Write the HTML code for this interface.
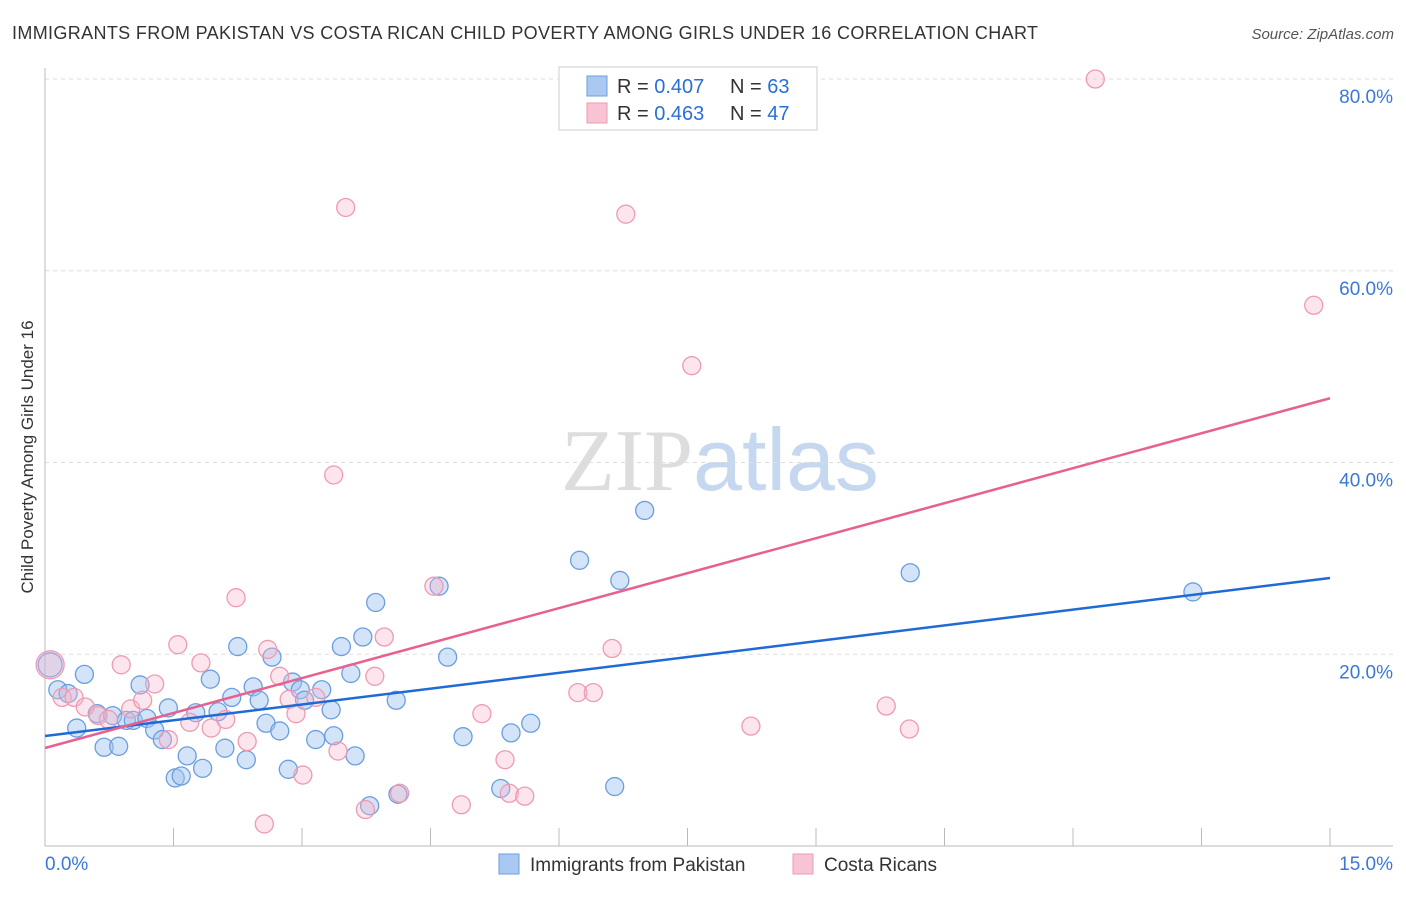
<!DOCTYPE html>
<html><head><meta charset="utf-8"><style>
body{margin:0;background:#fff;font-family:"Liberation Sans",sans-serif;}
svg text{font-family:"Liberation Sans",sans-serif;}
</style></head><body>
<svg id="chart" width="1406" height="892" xmlns="http://www.w3.org/2000/svg">
<text x="12" y="39" font-size="18" fill="#333" textLength="1026" lengthAdjust="spacing">IMMIGRANTS FROM PAKISTAN VS COSTA RICAN CHILD POVERTY AMONG GIRLS UNDER 16 CORRELATION CHART</text>
<text x="1394" y="39" font-size="15" fill="#555" text-anchor="end" font-style="italic">Source: ZipAtlas.com</text>
<text x="720" y="490" font-size="88" text-anchor="middle"><tspan fill="#ddd" font-family="Liberation Serif">ZIP</tspan><tspan fill="#c5d8f0">atlas</tspan></text>
<g id="grid"></g>
<g id="axes"></g>
<g id="marks"></g>
<text transform="translate(33,457) rotate(-90)" font-size="17" fill="#333" text-anchor="middle">Child Poverty Among Girls Under 16</text>
<g>
<rect x="559" y="67" width="258" height="63" fill="#fff" stroke="#ccc"/>
<rect x="587" y="76" width="20" height="20" fill="#a9c8f2" stroke="#6a9ee0"/>
<rect x="587" y="103" width="20" height="20" fill="#f8c4d4" stroke="#ee9ab3"/>
<text x="617" y="93" font-size="20" fill="#333">R = <tspan fill="#2a6fd6">0.407</tspan></text>
<text x="730" y="93" font-size="20" fill="#333">N = <tspan fill="#2a6fd6">63</tspan></text>
<text x="617" y="120" font-size="20" fill="#333">R = <tspan fill="#2a6fd6">0.463</tspan></text>
<text x="730" y="120" font-size="20" fill="#333">N = <tspan fill="#2a6fd6">47</tspan></text>
</g>
<g>
<rect x="499" y="854" width="20" height="20" fill="#a9c8f2" stroke="#6a9ee0"/>
<text x="530" y="871" font-size="19" fill="#333">Immigrants from Pakistan</text>
<rect x="793" y="854" width="20" height="20" fill="#f8c4d4" stroke="#ee9ab3"/>
<text x="824" y="871" font-size="19" fill="#333">Costa Ricans</text>
</g>
</svg>
<script>
const blueX=[0.06,0.15,0.27,0.37,0.46,0.61,0.69,0.79,0.86,0.95,1.03,1.11,1.19,1.28,1.37,1.44,1.52,1.59,1.66,1.76,1.84,1.93,2.02,2.10,2.18,2.25,2.35,2.43,2.50,2.58,2.65,2.74,2.84,2.89,2.98,3.03,3.16,3.23,3.34,3.37,3.46,3.57,3.62,3.71,3.79,3.86,4.10,4.12,4.60,4.70,4.88,5.32,5.44,5.67,6.24,6.65,6.71,7.00,10.10,13.40];
const blueY=[18.9,16.3,15.9,12.3,17.9,13.8,10.3,13.6,10.4,13.1,13.1,16.8,13.3,12.1,11.1,14.4,7.1,7.3,9.4,13.9,8.1,17.4,14.0,10.2,15.5,20.8,9.0,16.6,15.2,12.8,19.7,12.0,8.0,17.1,16.3,15.2,11.1,16.3,14.2,11.5,20.8,18.0,9.4,21.8,4.2,25.4,15.2,5.4,27.1,19.7,11.4,6.0,11.8,12.8,29.8,6.2,27.7,35.0,28.5,26.5];
const pinkX=[0.06,0.20,0.34,0.47,0.62,0.74,0.89,1.00,1.14,1.28,1.44,1.55,1.69,1.82,1.94,2.11,2.23,2.36,2.56,2.60,2.74,2.85,2.93,3.01,3.16,3.37,3.42,3.51,3.74,3.85,3.96,4.14,4.54,4.86,5.10,5.37,5.42,5.60,6.22,6.40,6.62,6.78,7.55,8.24,9.82,10.09,12.26,14.81];
const pinkY=[18.9,15.5,15.5,14.5,13.6,13.2,18.9,14.3,15.2,16.9,11.1,21.0,12.9,19.1,12.3,13.2,25.9,10.9,2.3,20.5,17.7,15.3,13.8,7.4,15.5,38.7,9.9,66.6,3.8,17.7,21.8,5.5,27.1,4.3,13.8,9.0,5.5,5.2,16.0,16.0,20.6,65.9,50.1,12.5,14.6,12.2,80.0,56.4];
const blueTrend=[11.47,27.95];
const pinkTrend=[10.22,46.7];
const yTicks=[20,40,60,80];
const xTickVals=[0,1.5,3,4.5,6,7.5,9,10.5,12,13.5,15];

const X=v=>45+v*(1285/15);
const Y=v=>846-v*9.5875;
const NS='http://www.w3.org/2000/svg';
function mk(parent,tag,attrs){const e=document.createElementNS(NS,tag);for(const k in attrs)e.setAttribute(k,attrs[k]);document.getElementById(parent).appendChild(e);return e;}

yTicks.forEach(t=>{
  const l=mk('grid','line',{x1:45,x2:1393,y1:Y(t),y2:Y(t),stroke:'#ddd','stroke-dasharray':'4,4'});
  
  
  const tx=mk('grid','text',{x:1393,y:Y(t)+24,'font-size':19,fill:'#3a78d8','text-anchor':'end'});
  tx.textContent=t.toFixed(1)+'%';
  
  
});
const ax=mk('axes','line',{x1:45,x2:1393,y1:846,y2:846,stroke:'#bbb'});


const ay=mk('axes','line',{x1:45,x2:45,y1:68,y2:846,stroke:'#bbb'});


xTickVals.forEach(t=>{
  const l=mk('axes','line',{x1:X(t),x2:X(t),y1:828,y2:846,stroke:'#bbb'});
  
  
});
const xl0=mk('axes','text',{x:45,y:870,'font-size':19,fill:'#3a78d8'});xl0.textContent='0.0%';


const xl1=mk('axes','text',{x:1393,y:870,'font-size':19,fill:'#3a78d8','text-anchor':'end'});xl1.textContent='15.0%';



blueX.forEach((v,i)=>{
  const c=mk('marks','circle',{cx:X(v),cy:Y(blueY[i]),r:i===0?12:9,fill:'rgba(160,196,240,0.45)',stroke:'#6a9ee0','stroke-width':1.3});
  
  
});
pinkX.forEach((v,i)=>{
  const c=mk('marks','circle',{cx:X(v),cy:Y(pinkY[i]),r:i===0?14:9,fill:'rgba(245,180,200,0.35)',stroke:'#ee9ab3','stroke-width':1.3});
  
  
});
const bl=mk('marks','line',{x1:X(0),y1:Y(blueTrend[0]),x2:X(15),y2:Y(blueTrend[1]),stroke:'#1f6ad6','stroke-width':2.5});


const pl=mk('marks','line',{x1:X(0),y1:Y(pinkTrend[0]),x2:X(15),y2:Y(pinkTrend[1]),stroke:'#e8608f','stroke-width':2.5});


</script>
</body></html>
